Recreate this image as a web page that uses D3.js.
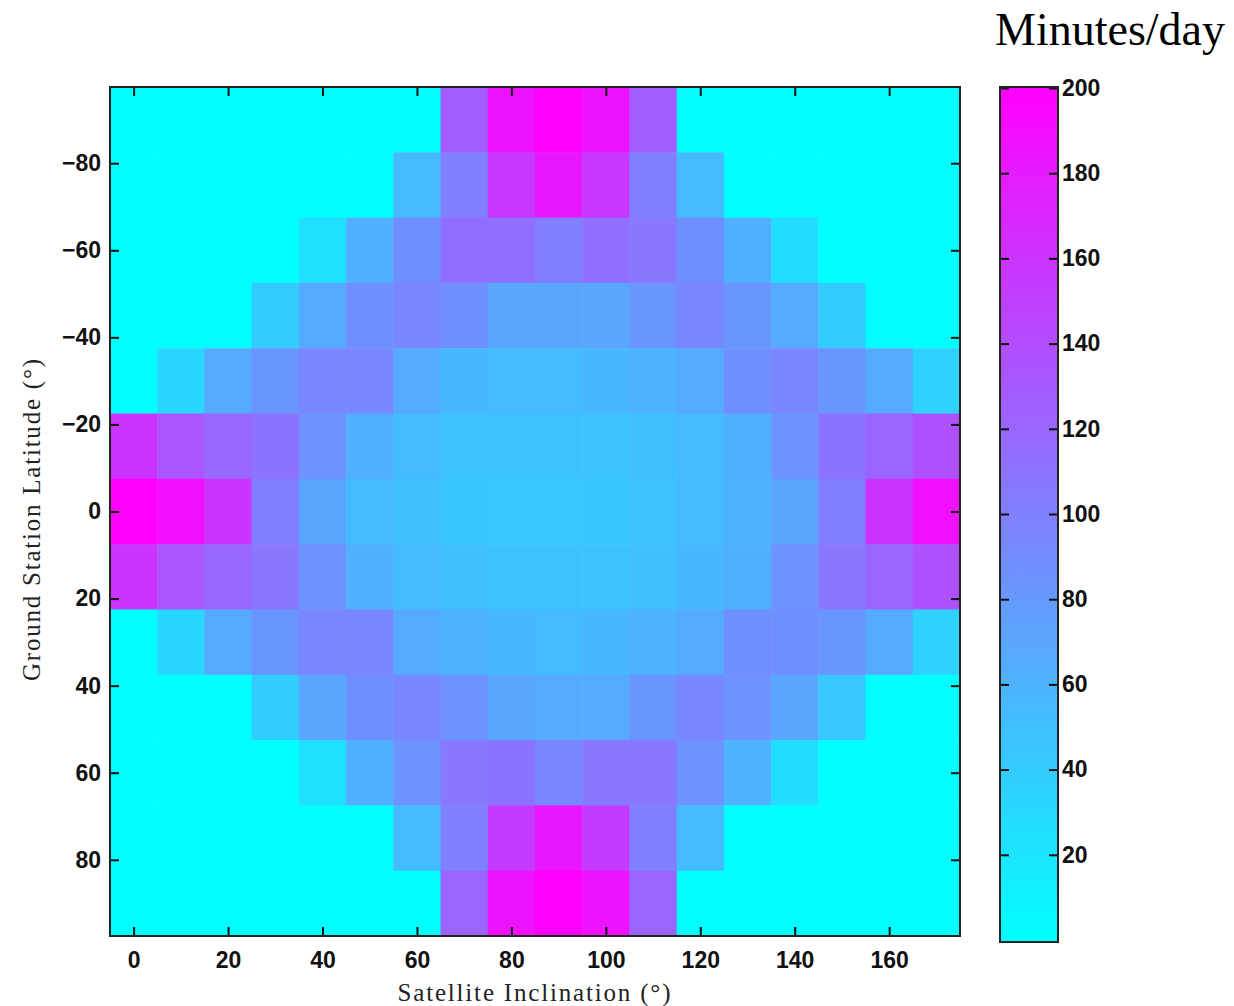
<!DOCTYPE html>
<html>
<head>
<meta charset="utf-8">
<script src="https://cdn.jsdelivr.net/npm/d3@7"></script>
<style>
  body { margin: 0; background: #fff; }
  svg { display: block; }
</style>
</head>
<body>
<svg id="chart" width="1234" height="1006"></svg>
<script>
// satellite inclination (deg), one column each
var inclinations = [0, 10, 20, 30, 40, 50, 60, 70, 80, 90, 100, 110, 120, 130, 140, 150, 160, 170];
// ground station latitude (deg), one row each
var latitudes = [-90, -75, -60, -45, -30, -15, 0, 15, 30, 45, 60, 75, 90];

// minutes/day of contact, rows follow latitudes, columns follow inclinations
var minutesPerDay = [
  [0, 0, 0, 0, 0, 0, 0, 128, 187, 200, 187, 128, 0, 0, 0, 0, 0, 0],
  [0, 0, 0, 0, 0, 0, 53, 100, 157, 182, 157, 100, 53, 0, 0, 0, 0, 0],
  [0, 0, 0, 0, 24, 63, 88, 113, 113, 100, 113, 107, 88, 63, 27, 0, 0, 0],
  [0, 0, 0, 40, 67, 88, 94, 88, 70, 70, 70, 83, 94, 83, 67, 40, 0, 0],
  [0, 31, 67, 83, 94, 94, 67, 56, 53, 53, 56, 60, 67, 88, 94, 83, 67, 35],
  [160, 133, 120, 110, 85, 63, 53, 47, 47, 47, 47, 50, 53, 63, 85, 110, 121, 137],
  [200, 188, 160, 100, 70, 53, 50, 45, 44, 44, 45, 48, 53, 60, 70, 100, 160, 188],
  [160, 133, 120, 106, 85, 63, 53, 50, 47, 47, 47, 50, 56, 63, 85, 106, 121, 137],
  [0, 31, 67, 83, 94, 94, 67, 60, 56, 53, 56, 60, 67, 88, 88, 83, 67, 35],
  [0, 0, 0, 40, 70, 88, 94, 85, 70, 67, 67, 83, 94, 85, 70, 44, 0, 0],
  [0, 0, 0, 0, 24, 63, 85, 106, 110, 94, 106, 106, 85, 60, 27, 0, 0, 0],
  [0, 0, 0, 0, 0, 0, 53, 100, 154, 182, 154, 100, 53, 0, 0, 0, 0, 0],
  [0, 0, 0, 0, 0, 0, 0, 121, 187, 200, 187, 121, 0, 0, 0, 0, 0, 0]
];

var xTicks = [0, 20, 40, 60, 80, 100, 120, 140, 160];
var yTicks = [-80, -60, -40, -20, 0, 20, 40, 60, 80];
var colorTicks = [20, 40, 60, 80, 100, 120, 140, 160, 180, 200];

var colStep = 10;
var rowStep = 15;

var plot = {left: 110, right: 960, top: 87, bottom: 936};
var cbar = {left: 1000, right: 1058, top: 87, bottom: 942};

var svg = d3.select('#chart');

var x = d3.scaleLinear()
    .domain([inclinations[0] - colStep / 2, inclinations[inclinations.length - 1] + colStep / 2])
    .range([plot.left, plot.right]);
var y = d3.scaleLinear()
    .domain([latitudes[0] - rowStep / 2, latitudes[latitudes.length - 1] + rowStep / 2])
    .range([plot.top, plot.bottom]);

// matlab "cool" map: cyan -> magenta
var color = d3.scaleSequential(d3.interpolateRgb('#00ffff', '#ff00ff')).domain([0, 200]);

var cells = [];
latitudes.forEach(function(lat, i) {
  inclinations.forEach(function(inc, j) {
    cells.push({lat: lat, inc: inc, value: minutesPerDay[i][j]});
  });
});

svg.append('g').selectAll('rect')
  .data(cells)
  .enter().append('rect')
    .attr('x', function(d) { return x(d.inc - colStep / 2); })
    .attr('y', function(d) { return y(d.lat - rowStep / 2); })
    .attr('width', function(d) { return x(d.inc + colStep / 2) - x(d.inc - colStep / 2) + 0.5; })
    .attr('height', function(d) { return y(d.lat + rowStep / 2) - y(d.lat - rowStep / 2) + 0.5; })
    .attr('fill', function(d) { return color(d.value); });

var tickFont = '"Liberation Sans", Arial, sans-serif';
var tickLen = 9;

function styleAxis(g) {
  g.select('.domain').remove();
  g.selectAll('.tick line').attr('stroke', '#111').attr('stroke-width', 2);
  g.selectAll('.tick text')
    .attr('fill', '#111')
    .style('font-family', tickFont)
    .style('font-size', '23px')
    .style('font-weight', 'bold');
}

svg.append('g')
    .attr('transform', 'translate(0,' + plot.bottom + ')')
    .call(d3.axisBottom(x).tickValues(xTicks).tickSize(-tickLen).tickPadding(16))
    .call(styleAxis);
svg.append('g')
    .attr('transform', 'translate(0,' + plot.top + ')')
    .call(d3.axisTop(x).tickValues(xTicks).tickSize(-tickLen).tickFormat(''))
    .call(styleAxis);
svg.append('g')
    .attr('transform', 'translate(' + plot.left + ',0)')
    .call(d3.axisLeft(y).tickValues(yTicks).tickSize(-tickLen).tickPadding(9))
    .call(styleAxis);
svg.append('g')
    .attr('transform', 'translate(' + plot.right + ',0)')
    .call(d3.axisRight(y).tickValues(yTicks).tickSize(-tickLen).tickFormat(''))
    .call(styleAxis);

svg.append('rect')
    .attr('x', plot.left).attr('y', plot.top)
    .attr('width', plot.right - plot.left).attr('height', plot.bottom - plot.top)
    .attr('fill', 'none').attr('stroke', '#222').attr('stroke-width', 2);

// axis titles
var titleFont = '"Liberation Serif", "Times New Roman", serif';
svg.append('text')
    .attr('x', (plot.left + plot.right) / 2 - 1)
    .attr('y', 1001)
    .attr('text-anchor', 'middle')
    .attr('textLength', 273)
    .style('font-family', titleFont)
    .style('font-size', '25px')
    .attr('fill', '#222')
    .text('Satellite Inclination (\u00b0)');
svg.append('text')
    .attr('transform', 'translate(40,520) rotate(-90)')
    .attr('text-anchor', 'middle')
    .attr('textLength', 322)
    .style('font-family', titleFont)
    .style('font-size', '25px')
    .attr('fill', '#222')
    .text('Ground Station Latitude (\u00b0)');

// colorbar
var cy = d3.scaleLinear().domain([0, 200]).range([940, 88]);
var defs = svg.append('defs');
var grad = defs.append('linearGradient')
    .attr('id', 'cool')
    .attr('x1', 0).attr('y1', 1).attr('x2', 0).attr('y2', 0);
d3.range(0, 1.0001, 0.1).forEach(function(t) {
  grad.append('stop')
    .attr('offset', t)
    .attr('stop-color', color(t * 200));
});

svg.append('rect')
    .attr('x', cbar.left).attr('y', cbar.top)
    .attr('width', cbar.right - cbar.left).attr('height', cbar.bottom - cbar.top)
    .attr('fill', 'url(#cool)');

svg.append('g')
    .attr('transform', 'translate(' + cbar.left + ',0)')
    .call(d3.axisLeft(cy).tickValues(colorTicks).tickSize(-tickLen).tickFormat(''))
    .call(styleAxis);
svg.append('g')
    .attr('transform', 'translate(' + cbar.right + ',0)')
    .call(d3.axisRight(cy).tickValues(colorTicks).tickSize(-tickLen).tickPadding(4))
    .call(styleAxis);

svg.append('rect')
    .attr('x', cbar.left).attr('y', cbar.top)
    .attr('width', cbar.right - cbar.left).attr('height', cbar.bottom - cbar.top)
    .attr('fill', 'none').attr('stroke', '#222').attr('stroke-width', 2);

svg.append('text')
    .attr('x', 1225)
    .attr('y', 45)
    .attr('text-anchor', 'end')
    .style('font-family', titleFont)
    .style('font-size', '46px')
    .attr('fill', '#000')
    .text('Minutes/day');
</script>
</body>
</html>
